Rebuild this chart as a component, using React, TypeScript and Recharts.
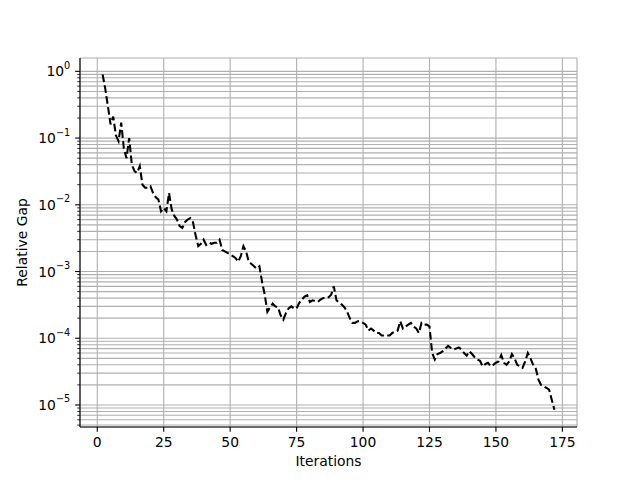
import React from "react";
import {
  CartesianGrid,
  Line,
  LineChart,
  XAxis,
  YAxis,
} from "recharts";

const ITERS = [
  2, 3, 4, 5, 6, 7, 8, 9, 10, 11,
  12, 13, 14, 15, 16, 17, 18, 19, 20, 21,
  22, 23, 24, 25, 26, 27, 28, 29, 30, 31,
  32, 33, 34, 35, 36, 37, 38, 39, 40, 41,
  42, 43, 44, 45, 46, 47, 48, 49, 50, 51,
  52, 53, 54, 55, 56, 57, 58, 59, 60, 61,
  62, 63, 64, 65, 66, 67, 68, 69, 70, 71,
  72, 73, 74, 75, 76, 77, 78, 79, 80, 81,
  82, 83, 84, 85, 86, 87, 88, 89, 90, 91,
  92, 93, 94, 95, 96, 97, 98, 99, 100, 101,
  102, 103, 104, 105, 106, 107, 108, 109, 110, 111,
  112, 113, 114, 115, 116, 117, 118, 119, 120, 121,
  122, 123, 124, 125, 126, 127, 128, 129, 130, 131,
  132, 133, 134, 135, 136, 137, 138, 139, 140, 141,
  142, 143, 144, 145, 146, 147, 148, 149, 150, 151,
  152, 153, 154, 155, 156, 157, 158, 159, 160, 161,
  162, 163, 164, 165, 166, 167, 168, 169, 170, 171,
  172,
];

const GAP = [
  0.9, 0.55, 0.3, 0.16, 0.21, 0.11, 0.09, 0.17, 0.07, 0.05,
  0.1, 0.04, 0.032, 0.03, 0.038, 0.02, 0.018, 0.018, 0.019, 0.015,
  0.013, 0.012, 0.008, 0.009, 0.008, 0.015, 0.0085, 0.0068, 0.006, 0.0048,
  0.0045, 0.0055, 0.006, 0.0063, 0.0055, 0.0035, 0.0024, 0.0026, 0.003, 0.0025,
  0.0027, 0.0026, 0.0027, 0.0027, 0.003, 0.0021, 0.002, 0.0019, 0.0018, 0.0017,
  0.0016, 0.0014, 0.0017, 0.0024, 0.002, 0.0014, 0.0013, 0.0012, 0.0011, 0.0012,
  0.0007, 0.00045, 0.00025, 0.00029, 0.00033, 0.0003, 0.00029, 0.00022, 0.00019, 0.00024,
  0.00028, 0.0003, 0.00028, 0.00028, 0.00034, 0.00038, 0.00042, 0.00044, 0.00035, 0.00037,
  0.00036, 0.00035, 0.00038, 0.0004, 0.0004, 0.00041, 0.00045, 0.0006, 0.00037, 0.00034,
  0.00032, 0.00029, 0.00025, 0.0002, 0.00017, 0.00017, 0.00018, 0.00018, 0.00017, 0.00016,
  0.00013, 0.00014, 0.00013, 0.00012, 0.00012, 0.00011, 0.00011, 0.00011, 0.00011, 0.00012,
  0.000125, 0.00013, 0.00018, 0.00014, 0.00015, 0.00016, 0.00017, 0.00015, 0.00014, 0.00012,
  0.00017, 0.00016, 0.00016, 0.00015, 0.00006, 0.000048, 0.000058, 0.00006, 0.000064, 0.00007,
  0.000077, 0.000072, 0.000068, 0.00007, 0.000073, 0.000068, 0.00006, 0.000055, 0.000064, 0.000058,
  0.000052, 0.000048, 0.000046, 0.000038, 0.000041, 0.000043, 0.000038, 0.00004, 0.000043, 0.000045,
  0.000056, 0.000043, 0.00004, 0.000045, 0.000058, 0.00005, 0.00004, 0.000038, 0.000036, 0.000045,
  0.00006, 0.00005, 0.00004, 0.000035, 0.000024, 0.00002, 0.000019, 0.000018, 0.000017, 0.000012,
  0.0000085,
];

const X_TICKS = [0, 25, 50, 75, 100, 125, 150, 175];
const Y_MAJOR = [1e-5, 1e-4, 1e-3, 1e-2, 1e-1, 1];
const MINOR_MULT = [2, 3, 4, 5, 6, 7, 8, 9];

const X_DOMAIN = [-6.5, 180.5];
const Y_DOMAIN = [Math.pow(10, -5.33), Math.pow(10, 0.2)];

const FONT = "'DejaVu Sans', sans-serif";
// matplotlib sizes are in points, the figure is 100 dpi
const PT = 100 / 72;

// minor log ticks (2..9 x 10^k) that fall inside the y range
const Y_MINOR = [1e-6, ...Y_MAJOR]
  .flatMap((d) => MINOR_MULT.map((m) => m * d))
  .filter((v) => v >= Y_DOMAIN[0] && v <= Y_DOMAIN[1]);
const Y_TICKS = [...Y_MINOR, ...Y_MAJOR].sort((a, b) => a - b);

const data = ITERS.map((iter, i) => ({ iter, gap: GAP[i] }));

function LogTick(props: any) {
  const { x, y, payload } = props;
  const v = payload.value;
  if (!Y_MAJOR.includes(v)) {
    return <line x1={x - 2 * PT} x2={x} y1={y} y2={y} stroke="#000" strokeWidth={0.6 * PT} />;
  }
  const exp = String(Math.round(Math.log10(v))).replace("-", "\u2212");
  return (
    <g>
      <line x1={x - 3.5 * PT} x2={x} y1={y} y2={y} stroke="#000" strokeWidth={0.8 * PT} />
      <text x={x - 7 * PT} y={y + 5} textAnchor="end" fill="#000" fontSize={10 * PT} fontFamily={FONT}>
        <tspan>10</tspan>
        <tspan dy={-7.5} fontSize={7 * PT}>{exp}</tspan>
      </text>
    </g>
  );
}

function YTitle(props: any) {
  const vb = props.viewBox;
  const cx = 22;
  const cy = vb.y + vb.height / 2;
  return (
    <text
      x={cx}
      y={cy}
      transform={`rotate(-90, ${cx}, ${cy})`}
      textAnchor="middle"
      dy={5}
      fill="#000"
      fontSize={10 * PT}
      fontFamily={FONT}
    >
      Relative Gap
    </text>
  );
}

function XTitle(props: any) {
  const vb = props.viewBox;
  return (
    <text
      x={vb.x + vb.width / 2}
      y={466}
      textAnchor="middle"
      fill="#000"
      fontSize={10 * PT}
      fontFamily={FONT}
    >
      Iterations
    </text>
  );
}

export default function App() {
  return (
    <div style={{ position: "absolute", left: 0, top: 0, background: "#fff" }}>
      <LineChart
        width={640}
        height={480}
        data={data}
        margin={{ top: 58, right: 63, bottom: 0, left: 0 }}
        style={{ fontFamily: FONT }}
      >
        <CartesianGrid stroke="#b0b0b0" strokeWidth={0.8 * PT} />
        <XAxis
          dataKey="iter"
          type="number"
          domain={X_DOMAIN}
          ticks={X_TICKS}
          allowDataOverflow
          height={53}
          tickSize={3.5 * PT}
          tickMargin={3.5 * PT}
          stroke="#000"
          strokeWidth={0.8 * PT}
          tick={{ fill: "#000", fontSize: 10 * PT }}
          label={<XTitle />}
        />
        <YAxis
          dataKey="gap"
          type="number"
          scale="log"
          domain={Y_DOMAIN}
          ticks={Y_TICKS}
          interval={0}
          allowDataOverflow
          width={80}
          tickSize={0}
          tickMargin={0}
          tickLine={false}
          stroke="#000"
          strokeWidth={0.8 * PT}
          tick={<LogTick />}
          label={<YTitle />}
        />
        <XAxis
          xAxisId="top"
          orientation="top"
          type="number"
          domain={[0, 1]}
          height={0}
          tick={false}
          tickLine={false}
          stroke="#000"
          strokeWidth={0.8 * PT}
        />
        <YAxis
          yAxisId="right"
          orientation="right"
          type="number"
          domain={[0, 1]}
          width={0}
          tick={false}
          tickLine={false}
          stroke="#000"
          strokeWidth={0.8 * PT}
        />
        <Line
          type="linear"
          dataKey="gap"
          stroke="#000"
          strokeWidth={1.5 * PT}
          strokeDasharray={`${5.55 * PT} ${2.4 * PT}`}
          dot={false}
          isAnimationActive={false}
        />
      </LineChart>
    </div>
  );
}
